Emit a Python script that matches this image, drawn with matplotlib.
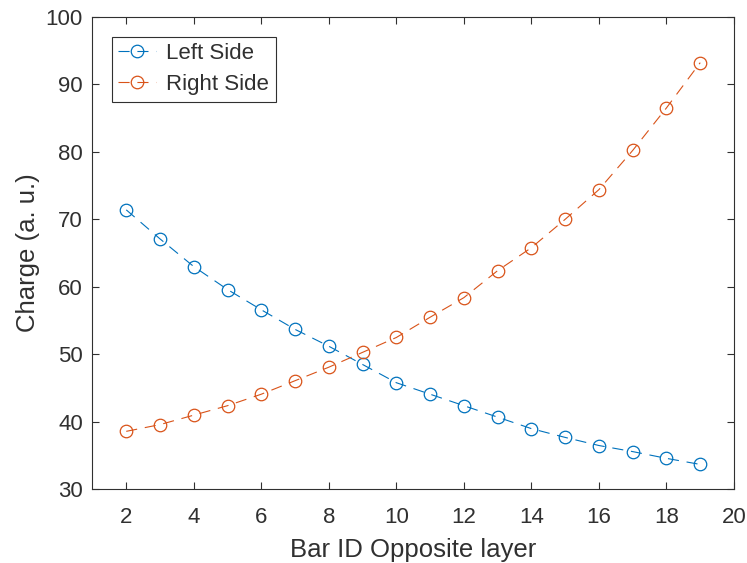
import matplotlib
matplotlib.use("Agg")
import matplotlib.pyplot as plt

plt.rcParams['font.family'] = ['Liberation Sans', 'DejaVu Sans']

bar_id = list(range(2, 20))
left_side = [71.4, 67.1, 63.0, 59.6, 56.6, 53.7, 51.2, 48.5, 45.8, 44.1,
             42.4, 40.7, 39.0, 37.7, 36.5, 35.6, 34.6, 33.7]
right_side = [38.6, 39.6, 41.0, 42.4, 44.1, 46.1, 48.1, 50.3, 52.5, 55.5,
              58.4, 62.4, 65.8, 70.0, 74.4, 80.2, 86.5, 93.2]

fig = plt.figure(figsize=(7.47, 5.63), dpi=100)
ax = fig.add_axes([0.1238, 0.1307, 0.8588, 0.8396])

dash = (0, (10, 7))
style = dict(linestyle=dash, linewidth=0.8, marker='o', markersize=9,
             markerfacecolor='none', markeredgewidth=0.9)
ax.plot(bar_id, left_side, color='#0072BD', label='Left Side', **style)
ax.plot(bar_id, right_side, color='#D95319', label='Right Side', **style)

ax.set_xlim(1, 20)
ax.set_ylim(30, 100)
ax.set_xticks(range(2, 21, 2))
ax.set_yticks(range(30, 101, 10))

grey = '#303030'
ax.tick_params(direction='in', length=5, width=0.8, colors=grey, labelsize=16,
               top=True, right=True)
ax.tick_params(axis='x', pad=13)
ax.tick_params(axis='y', pad=7)
for s in ax.spines.values():
    s.set_color(grey)
    s.set_linewidth(0.8)

ax.set_xlabel('Bar ID Opposite layer', fontsize=18.5, color=grey, labelpad=7)
ax.set_ylabel('Charge (a. u.)', fontsize=18.5, color=grey, labelpad=4)

leg = ax.legend(loc='upper left', fontsize=16, fancybox=False, framealpha=1,
                edgecolor=grey, handlelength=1.7, handletextpad=0.45,
                borderpad=0.3, labelspacing=0.45, borderaxespad=0,
                bbox_to_anchor=(0.03, 0.958))
leg.get_frame().set_linewidth(0.8)
for t in leg.get_texts():
    t.set_color(grey)

fig.savefig('out.png', dpi=100)
